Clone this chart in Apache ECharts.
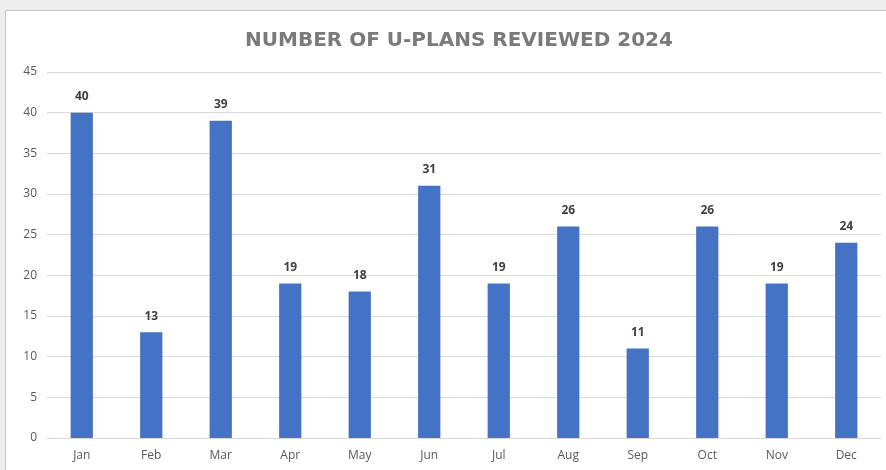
<!DOCTYPE html>
<html>
<head>
<meta charset="utf-8">
<script src="https://cdn.jsdelivr.net/npm/echarts@6/dist/echarts.min.js"></script>
<style>
  html, body { margin: 0; padding: 0; background: #eeeeee; overflow: hidden; }
  #frame { position: absolute; left: 5px; top: 10px; width: 900px; height: 480px;
           background: #ffffff; border: 1px solid #c4c4c4; }
  #main { position: absolute; left: 0; top: 0; width: 886px; height: 470px; }
</style>
</head>
<body>
<div id="frame"></div>
<div id="main"></div>
<script>
// 数据
var months = ['Jan', 'Feb', 'Mar', 'Apr', 'May', 'Jun', 'Jul', 'Aug', 'Sep', 'Oct', 'Nov', 'Dec'];
var reviewed = [40, 13, 39, 19, 18, 31, 19, 26, 11, 26, 19, 24];
var yTicks = [0, 5, 10, 15, 20, 25, 30, 35, 40, 45];

var myChart = echarts.init(document.getElementById('main'));

var option = {
    animation: false,
    title: {
        text: 'NUMBER OF U-PLANS REVIEWED 2024',
        left: 240,
        top: 26,
        textStyle: {
            fontFamily: 'DejaVu Sans',
            fontWeight: 'bold',
            fontSize: 20,
            color: '#7a7a7a'
        }
    },
    grid: {
        left: 47,
        right: 5,
        top: 72,
        bottom: 32,
        containLabel: false
    },
    xAxis: {
        type: 'category',
        data: months,
        axisLine: { lineStyle: { color: '#d9d9d9', width: 1 } },
        axisTick: { show: false },
        axisLabel: {
            margin: 12,
            fontFamily: 'Open Sans',
            fontSize: 12,
            color: '#595959'
        }
    },
    yAxis: {
        type: 'value',
        min: yTicks[0],
        max: yTicks[yTicks.length - 1],
        interval: 5,
        axisLine: { show: false },
        axisTick: { show: false },
        axisLabel: {
            margin: 10,
            fontFamily: 'Open Sans',
            fontSize: 12,
            color: '#595959'
        },
        splitLine: { lineStyle: { color: '#d9d9d9', width: 1 } }
    },
    series: [
        {
            name: 'U-Plans Reviewed',
            type: 'bar',
            data: reviewed,
            barWidth: '32%',
            itemStyle: { color: '#4472c4' },
            label: {
                show: true,
                position: 'top',
                distance: 10,
                fontFamily: 'Open Sans',
                fontWeight: 'bold',
                fontSize: 12,
                color: '#404040'
            }
        }
    ]
};

myChart.setOption(option);
</script>
</body>
</html>
